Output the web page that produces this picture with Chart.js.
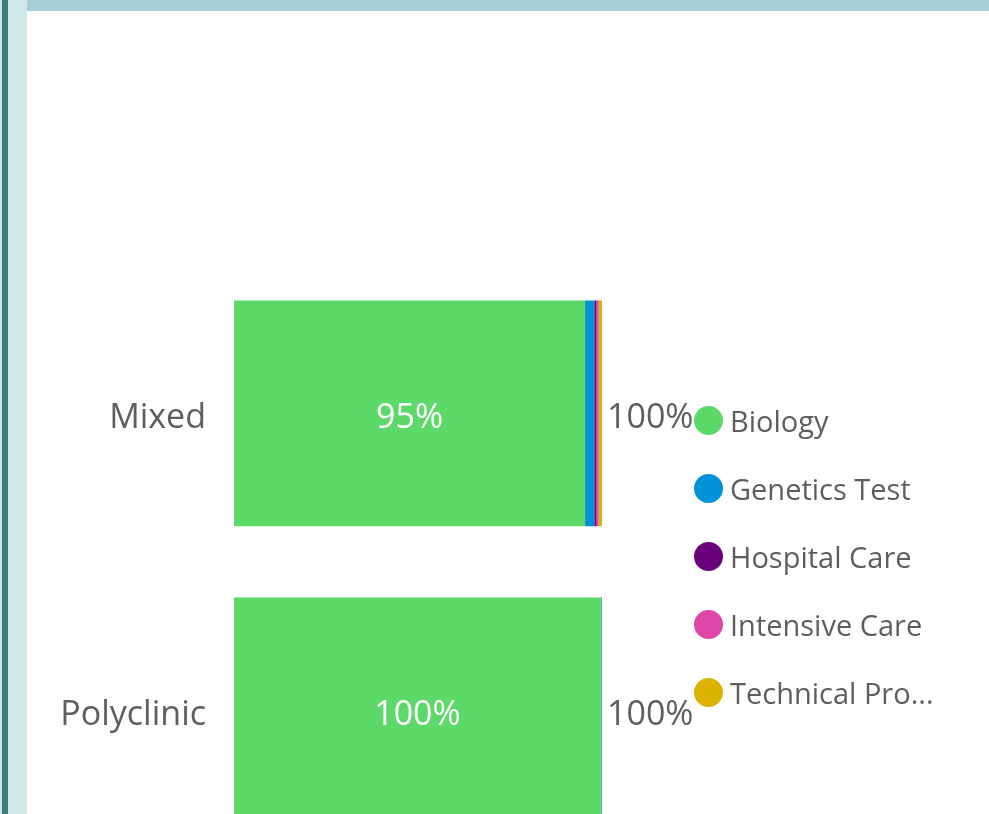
<!DOCTYPE html>
<html><head><meta charset="utf-8">
<script src="https://cdn.jsdelivr.net/npm/chart.js@4.4.1/dist/chart.umd.min.js"></script>
<style>
html,body{margin:0;padding:0;width:989px;height:814px;overflow:hidden;background:#fff;font-family:"Open Sans",sans-serif;}
#s1{position:absolute;left:0;top:0;width:2px;height:814px;background:#cfe6e8;}
#s2{position:absolute;left:2px;top:0;width:6px;height:814px;background:#3b7b80;}
#s3{position:absolute;left:8px;top:0;width:19px;height:814px;background:#d0e8ea;}
#topbar{position:absolute;left:27px;top:0;width:962px;height:11px;background:#a5d1d6;}
#c{position:absolute;left:27px;top:11px;}
#legend{position:absolute;left:694px;top:386px;}
.li{height:68px;display:flex;align-items:center;font-size:29px;color:#605e5c;white-space:nowrap;}
.dot{width:29px;height:29px;border-radius:50%;margin-right:7px;flex:none;}
</style></head>
<body>
<div id="s1"></div><div id="s2"></div><div id="s3"></div><div id="topbar"></div>
<canvas id="c" width="962" height="888" style="width:962px;height:888px"></canvas>
<div id="legend"></div>
<script>
const categories = ["Mixed", "Polyclinic"];
const seriesNames = ["Biology", "Genetics Test", "Hospital Care", "Intensive Care", "Technical Pro..."];
const biology = [95.4, 99.7];
const geneticsTest = [2.5, 0.2];
const hospitalCare = [0.6, 0];
const intensiveCare = [0.6, 0];
const technicalPro = [0.9, 0.1];
const totalLabels = ["100%", "100%"];
const colors = ["#5dd96a", "#0092d8", "#6b007b", "#e045a8", "#d9b300"];

const seriesValues = [biology, geneticsTest, hospitalCare, intensiveCare, technicalPro];
const FONT = '"Open Sans", sans-serif';

const lg = document.getElementById('legend');
seriesNames.forEach((n,i)=>{
  const d=document.createElement('div');d.className='li';
  d.innerHTML='<span class="dot" style="background:'+colors[i]+'"></span><span>'+n+'</span>';
  lg.appendChild(d);
});

const labelPlugin = {
  id:'labels',
  afterDatasetsDraw(chart){
    const ctx=chart.ctx;
    ctx.save();
    ctx.font='34px '+FONT;
    ctx.textBaseline='middle';
    const meta0=chart.getDatasetMeta(0);
    meta0.data.forEach((bar,i)=>{
      const w=Math.abs(bar.x-bar.base);
      if(w>60){
        ctx.fillStyle='#ffffff';ctx.textAlign='center';
        ctx.fillText(Math.round(biology[i])+'%',(bar.base+bar.x)/2,bar.y+5);
      }
    });
    const lastMeta=chart.getDatasetMeta(seriesValues.length-1);
    const xs=chart.scales.x;
    lastMeta.data.forEach((bar,i)=>{
      let tot=0;seriesValues.forEach(s=>tot+=s[i]);
      ctx.fillStyle='#605e5c';ctx.textAlign='left';
      ctx.fillText(totalLabels[i],xs.getPixelForValue(tot)+5,bar.y+5);
    });
    ctx.restore();
  }
};

new Chart(document.getElementById('c'),{
  type:'bar',
  data:{labels:categories,datasets:seriesNames.map((n,i)=>({label:n,data:seriesValues[i],backgroundColor:colors[i],borderWidth:0,barPercentage:0.76,categoryPercentage:1}))},
  options:{
    indexAxis:'y',responsive:false,maintainAspectRatio:false,animation:false,devicePixelRatio:1,
    layout:{padding:{top:254,right:387,bottom:0,left:0}},
    plugins:{legend:{display:false},tooltip:{enabled:false}},
    scales:{
      x:{stacked:true,min:0,max:100,display:false},
      y:{stacked:true,grid:{display:false},border:{display:false},
         ticks:{color:'#605e5c',font:{family:FONT,size:34},padding:20,labelOffset:5},
         afterFit(s){s.width=207;}}
    }
  },
  plugins:[labelPlugin]
});
</script>
</body></html>
